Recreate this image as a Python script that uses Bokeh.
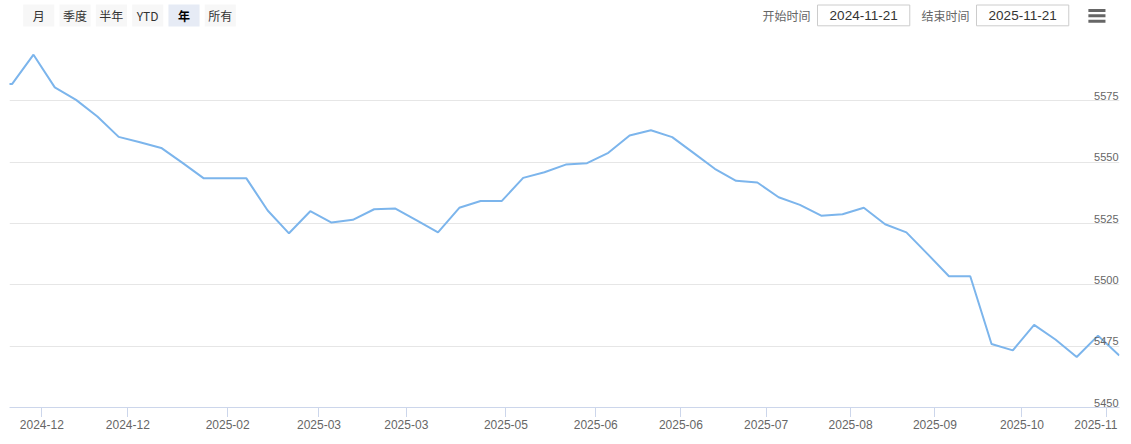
from bokeh.plotting import figure
from bokeh.models import Range1d, FixedTicker, Grid, ColumnDataSource
from bokeh.layouts import column
from bokeh.core.properties import value
from bokeh.embed import file_html
from bokeh.resources import INLINE

# ---------------- data ----------------
# weekly settlement values (first entry is the week before the visible range)
week_index = list(range(-1, 53))
prices = [5581.9, 5581.9, 5593.8, 5580.5, 5575.4, 5568.6, 5560.3, 5558.1, 5555.8,
          5549.7, 5543.4, 5543.4, 5543.4, 5530.3, 5521.0, 5530.0, 5525.4, 5526.5,
          5530.8, 5531.1, 5526.3, 5521.4, 5531.4, 5534.2, 5534.2, 5543.6, 5545.9,
          5549.0, 5549.6, 5553.8, 5560.9, 5563.0, 5560.2, 5553.8, 5547.3, 5542.4,
          5541.7, 5535.7, 5532.6, 5528.2, 5528.8, 5531.4, 5524.7, 5521.4, 5512.5,
          5503.5, 5503.5, 5475.9, 5473.3, 5483.7, 5477.7, 5470.6, 5479.3, 5471.2]

x_tick_pos = [1.39, 5.43, 10.12, 14.41, 18.51, 23.19, 27.41, 31.41, 35.41, 39.38, 43.34, 47.43, 51.41]
x_tick_labels = ["2024-12", "2024-12", "2025-02", "2025-03", "2025-03", "2025-05", "2025-06",
                 "2025-06", "2025-07", "2025-08", "2025-09", "2025-10", "2025-11"]

y_grid_vals = [5450, 5475, 5500, 5525, 5550, 5575, 5600]
y_label_vals = [5450, 5475, 5500, 5525, 5550, 5575]
y_label_text = ["5450", "5475", "5500", "5525", "5550", "5575"]

range_buttons = ["月", "季度", "半年", "YTD", "年", "所有"]
selected_button = "年"
start_label, start_date = "开始时间", "2024-11-21"
end_label, end_date = "结束时间", "2025-11-21"

LABEL_FONT = "Liberation Sans"
CJK_FONT = "Noto Sans CJK SC"

X_RANGE = Range1d(-0.127, 52.01)

# ---------------- header (range selector / inputs) ----------------
h = figure(width=1131, height=38, x_range=Range1d(0, 1131), y_range=Range1d(38, 0),
           output_backend="svg", toolbar_location=None, min_border=0,
           x_axis_type=None, y_axis_type=None)
h.grid.visible = False
h.outline_line_color = None

bx = [29.8 + 37 * i for i in range(len(range_buttons))]
fills = ["#e6ebf5" if b == selected_button else "#f7f7f7" for b in range_buttons]
h.quad(left=[c - 15.85 for c in bx], right=[c + 15.85 for c in bx],
       top=[4] * len(bx), bottom=[26] * len(bx), fill_color=fills, line_color=None)
for c, b in zip(bx, range_buttons):
    sel = b == selected_button
    h.text(x=[c], y=[15], text=[b], text_align="center", text_baseline="middle",
           text_font=value(CJK_FONT), text_font_size="12px",
           text_font_style="bold" if sel else "normal",
           text_color="#000000" if sel else "#333333")

# date inputs
h.text(x=[767.3], y=[14.8], text=[start_label], text_align="left", text_baseline="middle",
       text_font=value(CJK_FONT), text_font_size="12px", text_color="#666666")
h.text(x=[929.3], y=[14.8], text=[end_label], text_align="left", text_baseline="middle",
       text_font=value(CJK_FONT), text_font_size="12px", text_color="#666666")
h.quad(left=[823.3, 985.3], right=[917.3, 1079.3], top=[4.5, 4.5], bottom=[25.3, 25.3],
       fill_color="white", line_color="#cccccc", line_width=1)
h.text(x=[870.3, 1032.3], y=[15, 15], text=[start_date, end_date], text_align="center",
       text_baseline="middle", text_font=value(LABEL_FONT), text_font_size="13.5px",
       text_color="#333333")
# menu icon
h.segment(x0=[1099.3] * 3, x1=[1116.7] * 3, y0=[10, 15.3, 20.7], y1=[10, 15.3, 20.7],
          line_color="#666666", line_width=3)

# ---------------- main chart ----------------
p = figure(frame_width=1110, frame_height=368, x_range=X_RANGE, y_range=Range1d(5450, 5600),
           output_backend="svg", toolbar_location=None, y_axis_type=None,
           min_border_left=9, min_border_right=12, min_border_top=1, min_border_bottom=10)
p.outline_line_color = None
p.xgrid.visible = False
p.add_layout(Grid(dimension=1, ticker=FixedTicker(ticks=y_grid_vals),
                  grid_line_color="#e6e6e6", grid_line_width=1))

src = ColumnDataSource(dict(x=week_index, y=prices))
p.line("x", "y", source=src, line_color="#7cb5ec", line_width=2)

xa = p.xaxis[0]
xa.ticker = FixedTicker(ticks=x_tick_pos)
xa.major_label_overrides = {t: "" for t in x_tick_pos}
xa.major_label_text_font_size = "0px"
xa.major_label_standoff = 0
xa.axis_line_color = "#ccd6eb"
xa.major_tick_line_color = "#ccd6eb"
xa.major_tick_out = 10
xa.major_tick_in = 0
xa.minor_tick_line_color = None

# y labels drawn inside the plot, right aligned above gridlines
p.text(x=[X_RANGE.end] * len(y_label_vals), y=y_label_vals, text=y_label_text,
       text_align="right", text_baseline="bottom", x_offset=-1, y_offset=-1,
       text_font=value(LABEL_FONT), text_font_size="11px", text_color="#666666")

# ---------------- x tick labels strip ----------------
f = figure(frame_width=1110, height=27, x_range=X_RANGE, y_range=Range1d(27, 0),
           output_backend="svg", toolbar_location=None, x_axis_type=None, y_axis_type=None,
           min_border_left=9, min_border_right=12, min_border_top=0, min_border_bottom=0)
f.grid.visible = False
f.outline_line_color = None
f.text(x=x_tick_pos[:-1], y=[2] * (len(x_tick_pos) - 1), text=x_tick_labels[:-1],
       text_align="center", text_baseline="top",
       text_font=value(LABEL_FONT), text_font_size="12px", text_color="#666666")
# last label is justified to stay inside the chart edge
f.text(x=[X_RANGE.end], y=[2], text=[x_tick_labels[-1]], x_offset=-2,
       text_align="right", text_baseline="top",
       text_font=value(LABEL_FONT), text_font_size="12px", text_color="#666666")

layout = column(h, p, f, spacing=0)
open("out.html", "w").write(file_html(layout, INLINE))
